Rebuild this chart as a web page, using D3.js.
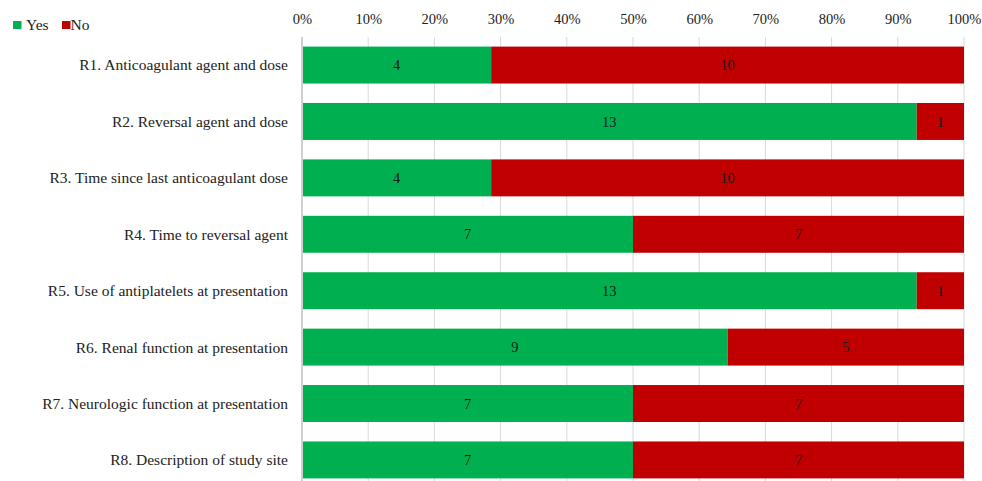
<!DOCTYPE html>
<html>
<head>
<meta charset="utf-8">
<script src="https://cdn.jsdelivr.net/npm/d3@7"></script>
<style>
  html, body { margin: 0; padding: 0; background: #fff; }
  svg { display: block; font-family: "Liberation Serif", "Times New Roman", serif; }
</style>
</head>
<body>
<svg id="chart" width="982" height="481"></svg>
<script>
// Reporting items and the number of studies that did / did not report each
const categories = [
  "R1. Anticoagulant agent and dose",
  "R2. Reversal agent and dose",
  "R3. Time since last anticoagulant dose",
  "R4. Time to reversal agent",
  "R5. Use of antiplatelets at presentation",
  "R6. Renal function at presentation",
  "R7. Neurologic function at presentation",
  "R8. Description of study site"
];
const yesCounts = [4, 13, 4, 7, 13, 9, 7, 7];
const noCounts  = [10, 1, 10, 7, 1, 5, 7, 7];
const seriesNames = ["Yes", "No"];
const seriesColors = ["#00B050", "#C00000"];
const tickValues = [0, 0.1, 0.2, 0.3, 0.4, 0.5, 0.6, 0.7, 0.8, 0.9, 1.0];

const svg = d3.select("#chart");
const margin = { top: 37, left: 302, right: 18, bottom: -7 };
const W = 982, H = 481;

const rows = categories.map((c, i) => {
  const total = yesCounts[i] + noCounts[i];
  return { cat: c, values: [yesCounts[i], noCounts[i]], total };
});

const x = d3.scaleLinear().domain([0, 1]).range([margin.left, W - margin.right]);
const y = d3.scaleBand().domain(categories)
  .range([margin.top, H - margin.bottom])
  .paddingInner(0.345).paddingOuter(0.17);

// vertical gridlines
svg.append("g").selectAll("line")
  .data(tickValues.slice(1))
  .join("line")
  .attr("x1", d => x(d)).attr("x2", d => x(d))
  .attr("y1", margin.top).attr("y2", H)
  .attr("stroke", "#d9d9d9").attr("stroke-width", 1);

// top percentage axis
const xAxis = d3.axisTop(x).tickValues(tickValues)
  .tickFormat(d3.format(".0%")).tickSize(0).tickPadding(0);
svg.append("g")
  .attr("transform", `translate(0,${24})`)
  .call(xAxis)
  .call(g => g.select(".domain").remove())
  .call(g => g.selectAll("text")
    .attr("font-family", "Liberation Serif, serif")
    .attr("font-size", 14.5).attr("fill", "#222"));

// stacked segments
const segs = [];
rows.forEach(r => {
  let acc = 0;
  r.values.forEach((v, k) => {
    const x0 = acc / r.total, x1 = (acc + v) / r.total;
    segs.push({ cat: r.cat, k, v, x0, x1 });
    acc += v;
  });
});

svg.append("g").selectAll("rect")
  .data(segs)
  .join("rect")
  .attr("x", d => x(d.x0))
  .attr("width", d => x(d.x1) - x(d.x0))
  .attr("y", d => y(d.cat))
  .attr("height", y.bandwidth())
  .attr("fill", d => seriesColors[d.k]);

// value labels centred in each segment
svg.append("g").selectAll("text")
  .data(segs)
  .join("text")
  .attr("x", d => (x(d.x0) + x(d.x1)) / 2)
  .attr("y", d => y(d.cat) + y.bandwidth() / 2)
  .attr("dy", "0.35em")
  .attr("text-anchor", "middle")
  .attr("font-size", 14.5)
  .attr("fill", "#1a1a1a")
  .text(d => d.v);

// category axis line
svg.append("line")
  .attr("x1", margin.left).attr("x2", margin.left)
  .attr("y1", margin.top).attr("y2", H)
  .attr("stroke", "#d0d0d0").attr("stroke-width", 2);

// category labels
svg.append("g").selectAll("text")
  .data(categories)
  .join("text")
  .attr("x", 288)
  .attr("y", d => y(d) + y.bandwidth() / 2)
  .attr("dy", "0.35em")
  .attr("text-anchor", "end")
  .attr("font-size", 15.5)
  .attr("fill", "#222")
  .text(d => d);

// legend
const legend = svg.append("g").attr("transform", "translate(13,0)");
const legendX = [0, 49];
seriesNames.forEach((name, i) => {
  const g = legend.append("g").attr("transform", `translate(${legendX[i]},0)`);
  g.append("rect").attr("x", 0).attr("y", 21).attr("width", 8.5).attr("height", 8)
    .attr("fill", seriesColors[i]);
  g.append("text").attr("x", i === 0 ? 13 : 8.5).attr("y", 30)
    .attr("font-size", 15.5).attr("fill", "#222").text(name);
});
</script>
</body>
</html>
